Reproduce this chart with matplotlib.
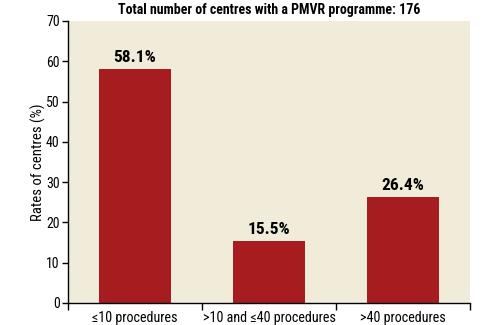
import matplotlib
matplotlib.use("Agg")
import matplotlib.pyplot as plt

categories = ["≤10 procedures", ">10 and ≤40 procedures", ">40 procedures"]
values = [58.1, 15.5, 26.4]
labels = ["58.1%", "15.5%", "26.4%"]
title = "Total number of centres with a PMVR programme: 176"
ylabel = "Rates of centres (%)"

plt.rcParams['font.family'] = ['Roboto Condensed', 'DejaVu Sans']

fig = plt.figure(figsize=(5.02, 3.25), dpi=100)
ax = fig.add_axes([68/502, 1 - 303/325, (470-68)/502, (303-21)/325])
ax.set_facecolor("#F1ECDA")
x = list(range(len(categories)))
ax.bar(x, values, width=0.53, color="#A71C1E", zorder=2)
for xi, v, l in zip(x, values, labels):
    ax.text(xi, v + 0.9, l, ha="center", va="bottom", fontsize=12.5, fontweight="bold")
ax.set_xlim(-0.5, 2.5)
ax.set_ylim(0, 70)
ax.set_yticks(range(0, 71, 10))
ax.set_xticks(x)
ax.set_xticklabels(categories, fontsize=10.2)
ax.set_xticks([-0.5, 0.5, 1.5, 2.5], minor=True)
ax.tick_params(axis="x", which="major", length=0, pad=6)
ax.tick_params(axis="x", which="minor", length=5, width=1)
ax.tick_params(axis="y", length=4, width=1, labelsize=10, pad=2)
for s in ["top", "right"]:
    ax.spines[s].set_visible(False)
ax.spines["left"].set_linewidth(1)
ax.spines["bottom"].set_linewidth(1)
ax.set_ylabel(ylabel, fontsize=10.6, labelpad=0)
fig.text(269/502, 1 - 10/325, title, ha="center", va="center", fontsize=10, fontweight="bold")
fig.savefig("out.png", dpi=100)
